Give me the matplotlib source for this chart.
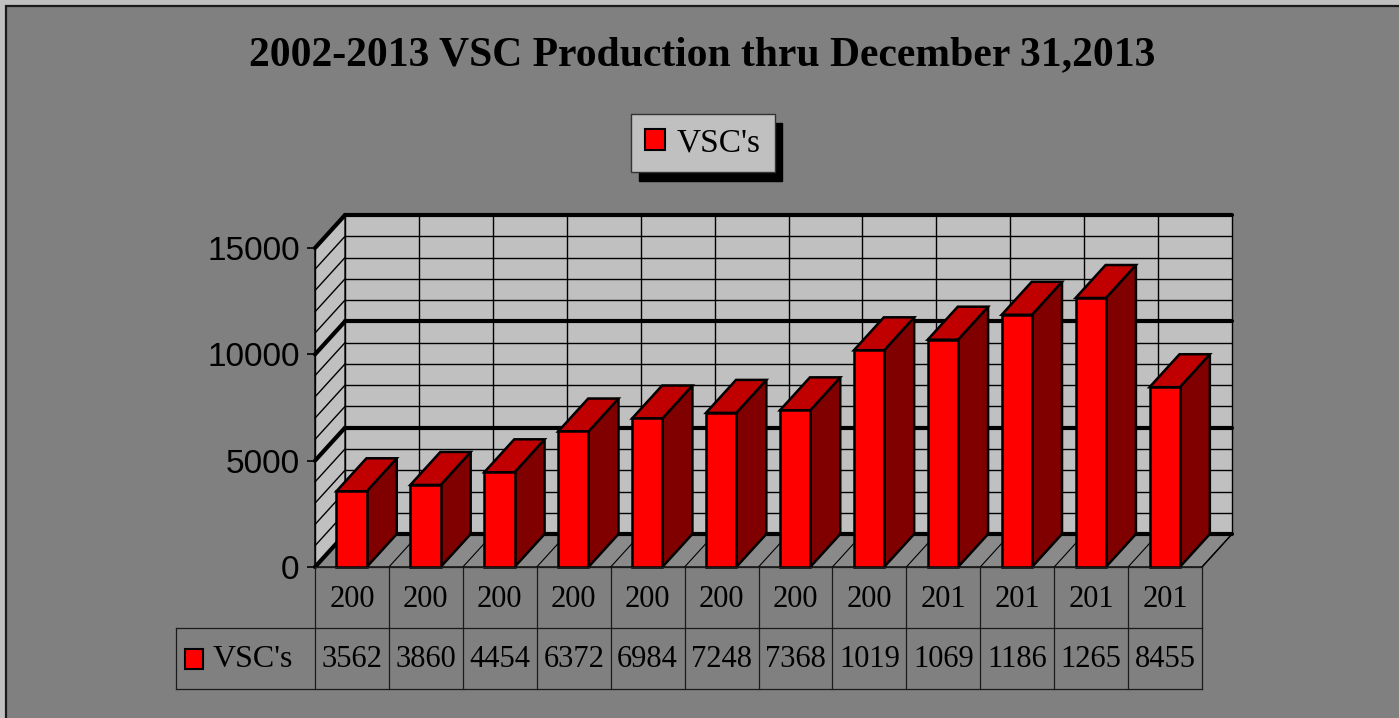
import numpy as np
import matplotlib
matplotlib.use('Agg')
import matplotlib.pyplot as plt
from matplotlib.patches import Polygon, Rectangle, Patch

# dados
anos = [2002, 2003, 2004, 2005, 2006, 2007, 2008, 2009, 2010, 2011, 2012, 2013]
vscs = [3562, 3860, 4454, 6372, 6984, 7248, 7368, 10190, 10690, 11860, 12650, 8455]
serie = "VSC's"
titulo = '2002-2013 VSC Production thru December 31,2013'
yticks = [0, 5000, 10000, 15000]
ymax = 15000
passo_menor = 1000

# cores (estilo Excel antigo)
fundo = '#808080'
parede = '#C0C0C0'
chao = '#8a8a8a'
vermelho = '#FF0000'
topo = '#C00000'
lado = '#800000'

# profundidade 3D (em unidades de dados)
DX = 0.406
DY = 1550.0
bar_off = 0.29
bar_w = 0.41

plt.rcParams['font.family'] = 'Liberation Serif'

W, H = 1399, 718
fig = plt.figure(figsize=(W / 100, H / 100), dpi=100)
fig.patch.set_facecolor(parede)
# moldura do grafico
fig.patches.append(Rectangle((6 / W, -0.1), 1.2, 1.1 - 6 / H, transform=fig.transFigure,
                             facecolor=fundo, edgecolor='#1a1a1a', lw=1.6, zorder=-10))

n = len(anos)
ax = fig.add_axes([315 / W, 1 - 567 / H, 887 / W, 319 / H])
ax.set_xlim(0, n)
ax.set_ylim(0, ymax)
ax.patch.set_visible(False)
for s in ['top', 'right', 'bottom']:
    ax.spines[s].set_visible(False)
ax.spines['left'].set_linewidth(1.0)
ax.set_xticks([])
ax.set_yticks(yticks)
ax.tick_params(axis='y', length=6, width=1.2, pad=5, labelsize=24)
for lb in ax.get_yticklabels():
    lb.set_fontfamily('Liberation Sans')


def p3(x, v, d):
    return (x + d * DX, v + d * DY)


def poly(pts, **kw):
    ax.add_patch(Polygon([p3(*p) for p in pts], closed=True, clip_on=False, **kw))


def linha(a, b, **kw):
    pa, pb = p3(*a), p3(*b)
    ax.plot([pa[0], pb[0]], [pa[1], pb[1]], color='black', clip_on=False,
            solid_capstyle='round', **kw)


# parede do fundo, parede lateral e chao
poly([(0, 0, 1), (n, 0, 1), (n, ymax, 1), (0, ymax, 1)], facecolor=parede,
     edgecolor='black', lw=1.0, zorder=1)
poly([(0, 0, 0), (0, ymax, 0), (0, ymax, 1), (0, 0, 1)], facecolor=parede,
     edgecolor='black', lw=1.0, zorder=1)
poly([(0, 0, 0), (n, 0, 0), (n, 0, 1), (0, 0, 1)], facecolor=chao,
     edgecolor='black', lw=1.0, zorder=1)

for v in np.arange(0, ymax + 1, passo_menor):
    lw = 3.0 if v in yticks else 1.0
    linha((0, v, 0), (0, v, 1), lw=lw, zorder=2)
    linha((0, v, 1), (n, v, 1), lw=lw, zorder=2)
for i in range(1, n):
    linha((i, 0, 1), (i, ymax, 1), lw=1.0, zorder=1.5)
for i in range(1, n + 1):
    linha((i, 0, 0), (i, 0, 1), lw=0.8, zorder=1.5)

# barras 3D
for i, v in enumerate(vscs):
    x0 = i + bar_off
    x1 = x0 + bar_w
    kw = dict(edgecolor='black', lw=1.8, joinstyle='miter')
    poly([(x1, 0, 0), (x1, 0, 1), (x1, v, 1), (x1, v, 0)], facecolor=lado, zorder=3, **kw)
    poly([(x0, v, 0), (x1, v, 0), (x1, v, 1), (x0, v, 1)], facecolor=topo, zorder=3, **kw)
    poly([(x0, 0, 0), (x1, 0, 0), (x1, v, 0), (x0, v, 0)], facecolor=vermelho, zorder=4, **kw)

# tabela de dados
key_w = 139 / (887 / n)
tab = fig.add_axes([176 / W, 1 - 689 / H, 1026 / W, 122 / H])
tab.set_xlim(-key_w, n)
tab.set_ylim(0, 2)
tab.axis('off')
lc = '#1a1a1a'
tab.plot([0, n], [2, 2], color=lc, lw=0.9, clip_on=False)
tab.plot([-key_w, n], [1, 1], color=lc, lw=0.9, clip_on=False)
tab.plot([-key_w, n], [0, 0], color=lc, lw=0.9, clip_on=False)
tab.plot([-key_w, -key_w], [0, 1], color=lc, lw=0.9, clip_on=False)
for i in range(n + 1):
    tab.plot([i, i], [0, 2], color=lc, lw=0.9, clip_on=False)
for i, (a, v) in enumerate(zip(anos, vscs)):
    tab.text(i + 0.5, 1.47, str(a)[:3], ha='center', va='center', fontsize=22)
    tab.text(i + 0.5, 0.48, str(v)[:4], ha='center', va='center', fontsize=22)
tab.add_patch(Rectangle((-key_w + 0.12, 0.32), 0.25, 0.33, facecolor=vermelho,
                        edgecolor='black', lw=1.5, clip_on=False))
tab.text(-key_w + 0.49, 0.48, serie, ha='left', va='center', fontsize=23)

# titulo
fig.text(702 / W, 1 - 55 / H, titulo, ha='center', va='center', fontsize=30,
         fontweight='bold')

# legenda
leg = fig.legend(handles=[Patch(facecolor=vermelho, edgecolor='black', lw=1.5, label=serie)],
                 loc='center', bbox_to_anchor=(703 / W, 1 - 143 / H), fontsize=24,
                 frameon=True, fancybox=False, facecolor=parede, edgecolor='#333333',
                 framealpha=1, handlelength=0.6, handleheight=0.6, handletextpad=0.35,
                 borderpad=0.42, borderaxespad=0,
                 shadow={'ox': 5.5, 'oy': -6.5, 'color': 'black', 'alpha': 1})
leg.get_frame().set_linewidth(1.0)

fig.savefig('out.png', dpi=100, facecolor=fig.get_facecolor())
